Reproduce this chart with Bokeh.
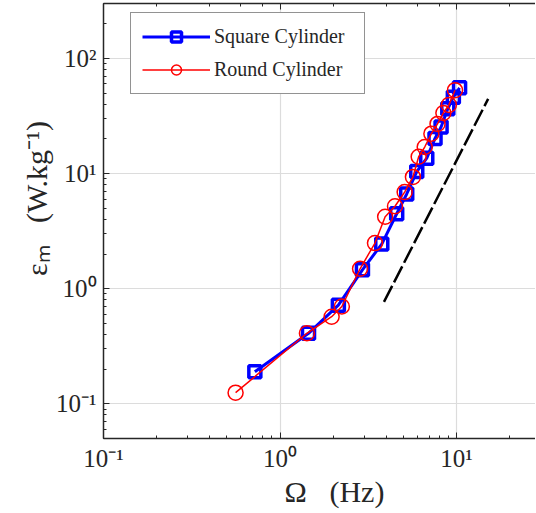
from bokeh.plotting import figure
from bokeh.models import LogAxis, LogTicker, CustomJSTickFormatter, Legend, LegendItem
from bokeh.embed import file_html
from bokeh.resources import INLINE

# Data
square_freq = [0.72, 1.45, 2.14, 2.93, 3.77, 4.58, 5.22, 5.95, 6.78, 7.55, 8.17, 8.92, 9.59, 10.4]
square_eps = [0.19, 0.41, 0.72, 1.46, 2.44, 4.48, 6.65, 10.4, 13.6, 20.2, 25.4, 36.5, 46.0, 55.5]

round_freq = [0.56, 1.42, 1.96, 2.24, 2.84, 3.45, 3.94, 4.48, 5.08, 5.66, 6.1, 6.6, 7.2, 7.8, 8.42, 9.05, 9.8]
round_eps = [0.125, 0.41, 0.571, 0.70, 1.49, 2.49, 4.22, 5.2, 6.9, 9.35, 14.0, 17.0, 22.2, 27.0, 33.6, 39.5, 53.0]

ref_freq = [3.88, 15.1]
ref_eps = [0.768, 44.5]

AX = "#262626"
GRID = "#dcdcdc"
FONT = "Liberation Serif"

sup_js = """
const sup = {"-":"\u207b","0":"\u2070","1":"\u00b9","2":"\u00b2","3":"\u00b3","4":"\u2074","5":"\u2075","6":"\u2076","7":"\u2077","8":"\u2078","9":"\u2079"};
const e = Math.round(Math.log10(tick));
return "10" + String(e).split("").map(c => sup[c]).join("");
"""

p = figure(width=535, height=510, x_axis_type="log", y_axis_type="log",
           x_range=(0.1, 28), y_range=(0.05, 300),
           output_backend="svg", toolbar_location=None,
           min_border_left=103, min_border_right=0, min_border_top=3, min_border_bottom=67)
p.outline_line_color = None
p.background_fill_color = "white"

for ax in (p.xaxis[0], p.yaxis[0]):
    ax.formatter = CustomJSTickFormatter(code=sup_js)
    ax.major_label_text_font = FONT
    ax.major_label_text_font_size = "25px"
    ax.major_label_text_color = AX
    ax.axis_line_color = AX
    ax.axis_line_width = 1.5
    ax.major_tick_line_color = AX
    ax.minor_tick_line_color = AX
    ax.major_tick_in = 6
    ax.major_tick_out = 0
    ax.minor_tick_in = 3
    ax.minor_tick_out = 0
    ax.axis_label_text_font = FONT
    ax.axis_label_text_font_size = "30px"
    ax.axis_label_text_font_style = "normal"
    ax.axis_label_text_color = AX

p.xaxis[0].major_label_standoff = 6
p.yaxis[0].major_label_standoff = 7
p.xaxis[0].axis_label = "\u00a0\u00a0\u00a0\u00a0Ω\u00a0\u00a0\u00a0(Hz)"
p.yaxis[0].axis_label = "\u00a0\u00a0\u00a0\u00a0\u00a0\u00a0εₘ\u00a0\u00a0\u00a0(W.kg⁻¹)"
p.xaxis[0].axis_label_standoff = 0
p.yaxis[0].axis_label_standoff = 0

top = LogAxis(ticker=LogTicker(), axis_line_color=AX, axis_line_width=1.5,
              major_tick_line_color=AX, minor_tick_line_color=AX,
              major_tick_in=6, major_tick_out=0, minor_tick_in=3, minor_tick_out=0,
              major_label_text_alpha=0, major_label_text_font_size="1px",
              major_label_standoff=0)
p.add_layout(top, "above")

p.xgrid.grid_line_color = GRID
p.ygrid.grid_line_color = GRID
p.xgrid.grid_line_width = 1.2
p.ygrid.grid_line_width = 1.2

p.line(ref_freq, ref_eps, line_color="black", line_width=2.5, line_dash="18 4")

sq_line = p.line(square_freq, square_eps, line_color="#0000ff", line_width=3)
sq_mark = p.scatter(square_freq, square_eps, marker="square", size=12,
                    line_color="#0000ff", line_width=3.5, fill_color=None)
rd_line = p.line(round_freq, round_eps, line_color="#ff0000", line_width=1.5)
rd_mark = p.scatter(round_freq, round_eps, marker="circle", size=15,
                    line_color="#ff0000", line_width=1.5, fill_color=None)

legend = Legend(items=[LegendItem(label="Square Cylinder", renderers=[sq_line, sq_mark]),
                       LegendItem(label="Round Cylinder", renderers=[rd_line, rd_mark])],
                location=(27, 344), orientation="vertical",
                glyph_width=68, glyph_height=25, label_standoff=4, spacing=8,
                padding=11, margin=0, label_width=139, label_height=25,
                label_text_font=FONT, label_text_font_size="20px", label_text_color=AX,
                border_line_color=AX, border_line_width=1.5,
                background_fill_color="white", background_fill_alpha=1.0)
p.add_layout(legend, "center")

open("out.html", "w").write(file_html(p, INLINE))
